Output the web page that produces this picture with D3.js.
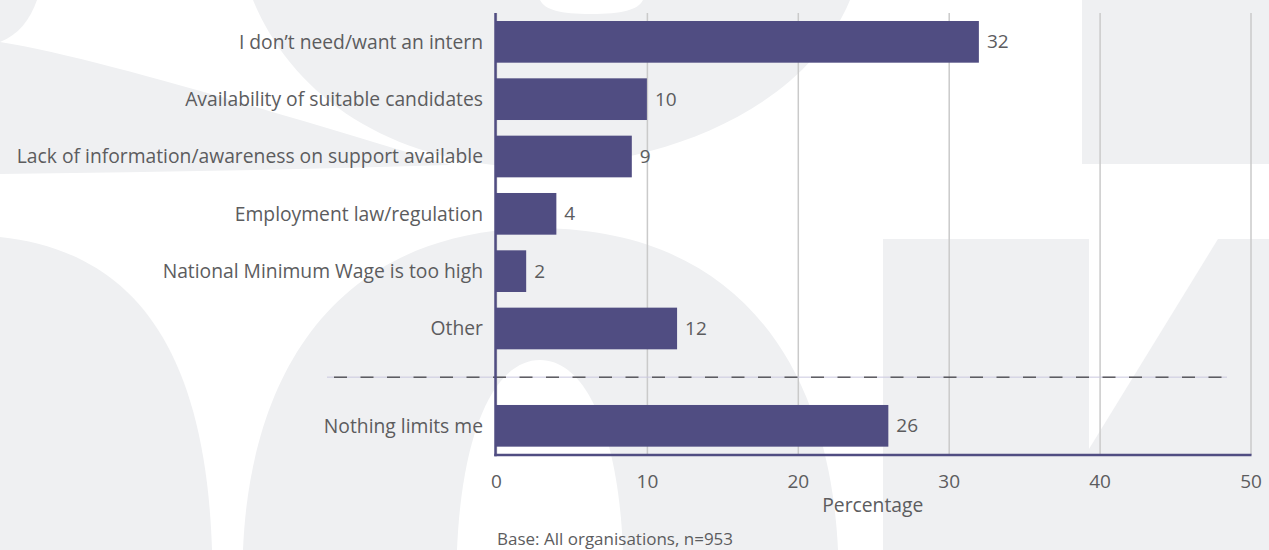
<!DOCTYPE html>
<html>
<head>
<meta charset="utf-8">
<script src="https://cdn.jsdelivr.net/npm/d3@7"></script>
<style>
  html, body { margin: 0; padding: 0; background: #ffffff; }
  svg { display: block; }
  text { font-family: "Open Sans", "Noto Sans", sans-serif; }
</style>
</head>
<body>
<svg id="chart" width="1269" height="550"></svg>
<script>
// Reasons that limit organisations from taking on an intern (% of organisations)
const categories = [
  "I don\u2019t need/want an intern",
  "Availability of suitable candidates",
  "Lack of information/awareness on support available",
  "Employment law/regulation",
  "National Minimum Wage is too high",
  "Other",
  "Nothing limits me"
];
const values = [32, 10, 9, 4, 2, 12, 26];
// "Nothing limits me" is set apart from the listed reasons
const separatedFrom = "Nothing limits me";
const xTicks = [0, 10, 20, 30, 40, 50];
const xTitle = "Percentage";
const baseNote = "Base: All organisations, n=953";

const data = categories.map((c, i) => ({ category: c, value: values[i] }));

const svg = d3.select("#chart");
const plot = { left: 496, right: 1250.5, top: 13, bottom: 455 };
const groupGap = 40;

const barColor = "#504d82";
const textColor = "#5c5c5e";
const shade = "#eff0f2";
const labelSize = "19.3px";

// Decorative backdrop: oversized pale letterforms
const backdrop = svg.append("g").attr("class", "backdrop");
const shadePaths = [
  "M0,0 L37,0 C30,20 18,35 0,42 Z",
  "M0,42 C100,58 300,120 450,165 C300,170 150,172 0,174 Z",
  "M253,0 C290,90 380,160 520,167 C640,170 800,120 850,0 Z",
  "M0,237 C120,250 205,330 212,550 L0,550 Z",
  "M243,550 C250,380 330,230 540,228 C750,230 830,380 838,550 Z",
  "M1082,0 L1269,0 L1269,164 L1082,164 Z",
  "M883,239 L1089,239 L1089,550 L883,550 Z",
  "M1218,239 L1269,239 L1269,550 L1089,550 L1089,449 Z"
];
const holePaths = [
  "M540,0 C545,10 560,14 591,14 C622,14 638,10 643,0 Z",
  "M457,550 C462,430 495,360 540,360 C585,360 618,430 623,550 Z"
];
backdrop.selectAll("path.shade").data(shadePaths).join("path")
  .attr("class", "shade").attr("d", d => d).attr("fill", shade);
backdrop.selectAll("path.hole").data(holePaths).join("path")
  .attr("class", "hole").attr("d", d => d).attr("fill", "#ffffff");

// Scales
const x = d3.scaleLinear().domain([0, 50]).range([plot.left, plot.right]);
const y = d3.scaleBand()
  .domain(categories)
  .range([21, 21 + 57.33 * (categories.length - 0.273)])
  .paddingInner(0.273)
  .paddingOuter(0);
const yPos = c => y(c) + (c === separatedFrom ? groupGap : 0);

// Bottom axis with vertical gridlines
const xAxis = d3.axisBottom(x)
  .tickValues(xTicks)
  .tickFormat(d3.format("d"))
  .tickSizeInner(-(plot.bottom - plot.top))
  .tickSizeOuter(0)
  .tickPadding(20);

const gx = svg.append("g")
  .attr("transform", `translate(0,${plot.bottom})`)
  .call(xAxis);
gx.selectAll(".tick line").attr("stroke", "#cacaca").attr("stroke-width", 1.5);
gx.select(".domain").remove();
gx.selectAll(".tick text")
  .attr("fill", textColor)
  .style("font-size", "19px")
  .style("font-family", "'Open Sans', sans-serif");

// Separator between the reasons and "Nothing limits me"
const sepIdx = categories.indexOf(separatedFrom);
const sepY = (y(categories[sepIdx - 1]) + y.bandwidth() + yPos(separatedFrom)) / 2;
svg.append("line")
  .attr("x1", 327).attr("x2", 1227)
  .attr("y1", sepY).attr("y2", sepY)
  .attr("stroke", "#c9c7de").attr("stroke-width", 1);
svg.append("line")
  .attr("x1", 327).attr("x2", 1227)
  .attr("y1", sepY).attr("y2", sepY)
  .attr("stroke", "#1a1a1a").attr("stroke-width", 1)
  .attr("stroke-dasharray", "13,13.5")
  .attr("stroke-dashoffset", 19.5);

// Bars
svg.append("g").selectAll("rect").data(data).join("rect")
  .attr("x", x(0))
  .attr("y", d => yPos(d.category))
  .attr("width", d => x(d.value) - x(0))
  .attr("height", y.bandwidth())
  .attr("fill", barColor);

// Axis lines
svg.append("line")
  .attr("x1", plot.left - 0.5).attr("x2", plot.left - 0.5)
  .attr("y1", plot.top).attr("y2", plot.bottom + 1.2)
  .attr("stroke", barColor).attr("stroke-width", 2.5);
svg.append("line")
  .attr("x1", plot.left - 1.7).attr("x2", plot.right + 1)
  .attr("y1", plot.bottom).attr("y2", plot.bottom)
  .attr("stroke", barColor).attr("stroke-width", 2.5);

// Category labels
svg.append("g").selectAll("text").data(data).join("text")
  .attr("x", plot.left - 13)
  .attr("y", d => yPos(d.category) + y.bandwidth() / 2)
  .attr("dy", "0.35em")
  .attr("text-anchor", "end")
  .attr("fill", textColor)
  .style("font-size", labelSize)
  .text(d => d.category);

// Value labels
svg.append("g").selectAll("text").data(data).join("text")
  .attr("x", d => x(d.value) + 8)
  .attr("y", d => yPos(d.category) + y.bandwidth() / 2)
  .attr("dy", "0.35em")
  .attr("fill", textColor)
  .style("font-size", "19px")
  .text(d => d.value);

// Axis title and base note
svg.append("text")
  .attr("x", (plot.left + plot.right) / 2 - 0.5)
  .attr("y", 512)
  .attr("text-anchor", "middle")
  .attr("fill", textColor)
  .style("font-size", "19.3px")
  .text(xTitle);

svg.append("text")
  .attr("x", 497)
  .attr("y", 545)
  .attr("fill", textColor)
  .style("font-size", "17px")
  .text(baseNote);
</script>
</body>
</html>
